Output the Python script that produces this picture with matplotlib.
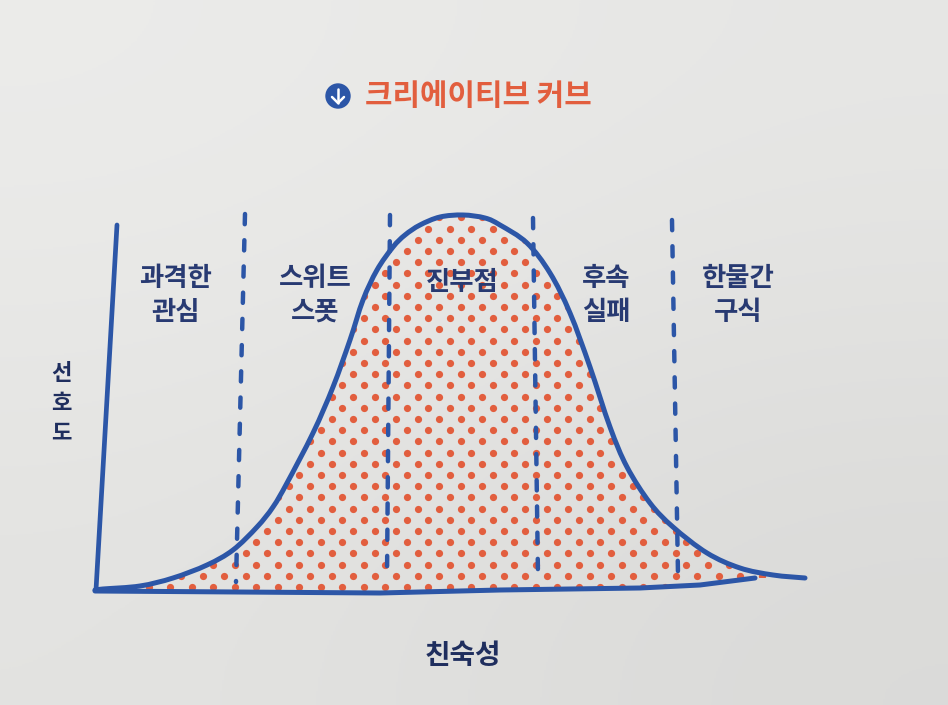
import numpy as np
import matplotlib.pyplot as plt
from matplotlib.patches import PathPatch, Circle
from matplotlib.path import Path

plt.rcParams['font.family'] = ['Noto Sans CJK KR', 'DejaVu Sans']

# curve (picture units, y grows downward)
curve_x = [95, 103, 140, 173, 207, 233, 257, 273, 287, 313, 333, 350, 363, 377,
           393, 405, 420, 440, 463, 485, 500, 527, 550, 570, 590, 610, 627, 650,
           673, 707, 740, 773, 805]
curve_y = [590, 589, 586, 578, 565, 550, 527, 507, 483, 433, 387, 340, 300, 270,
           247, 235, 225, 217, 215, 218, 225, 243, 273, 313, 367, 427, 467, 503,
           527, 553, 568, 575, 578]

# baseline and y axis (page is slightly warped in the photo)
base_x = [95, 380, 500, 640, 700, 755]
base_y = [591, 593, 590, 588, 585, 578]
yaxis_x = [96, 117]
yaxis_y = [590, 225]

# dashed stage dividers: (top x, top y, bottom x, bottom y)
dividers = [(245, 214, 236, 582), (390, 215, 387, 578),
            (533, 218, 538, 576), (672, 220, 678, 575)]

stage_labels = [["과격한", "관심"], ["스위트", "스폿"], ["진부점"],
                ["후속", "실패"], ["한물간", "구식"]]
stage_x = [176, 315, 462, 606, 738]

title = "크리에이티브 커브"
xlabel = "친숙성"
ylabel = "선호도"

blue = "#2c56a7"
navy = "#283a72"
orange = "#e25e3e"


def smooth_path(xs, ys):
    # catmull-rom through the read points, as cubic bezier segments
    p = np.column_stack([xs, ys]).astype(float)
    ext = np.vstack([p[0], p, p[-1]])
    verts = [p[0]]
    codes = [Path.MOVETO]
    for i in range(1, len(ext) - 2):
        c1 = ext[i] + (ext[i + 1] - ext[i - 1]) / 6
        c2 = ext[i + 1] - (ext[i + 2] - ext[i]) / 6
        verts += [c1, c2, ext[i + 1]]
        codes += [Path.CURVE4] * 3
    return verts, codes


fig = plt.figure(figsize=(9.48, 7.05), dpi=100)
ax = fig.add_axes([0, 0, 1, 1])
ax.set_xlim(0, 948)
ax.set_ylim(705, 0)
ax.axis('off')

# paper background
bg = np.array([[[0.925, 0.925, 0.918], [0.905, 0.905, 0.898]],
               [[0.890, 0.890, 0.882], [0.855, 0.855, 0.848]]])
ax.imshow(bg, extent=(0, 948, 705, 0), interpolation='bicubic', aspect='auto', zorder=0)

cv, cc = smooth_path(curve_x, curve_y)

# dotted fill under the curve
fill_verts = cv + [np.array(v, float) for v in zip(base_x[::-1], base_y[::-1])] + [cv[0]]
fill_codes = cc + [Path.LINETO] * len(base_x) + [Path.CLOSEPOLY]
area = PathPatch(Path(fill_verts, fill_codes), facecolor='none', edgecolor='none')
ax.add_patch(area)
dx, dy = 21.5, 11.2
pts = []
for i, yy in enumerate(np.arange(587, 205, -dy)):
    off = 0 if i % 2 == 0 else dx / 2
    for xx in np.arange(20 + off, 820, dx):
        pts.append((xx, yy))
pts = np.array(pts)
dots = ax.scatter(pts[:, 0], pts[:, 1], s=27, color=orange, linewidths=0, zorder=2)
dots.set_clip_path(area)

# dividers
for x0, y0, x1, y1 in dividers:
    ax.plot([x0, x1], [y0, y1], color=blue, lw=3.2, dashes=(2.3, 3.6),
            dash_capstyle='round', zorder=3)

# axes and curve
ax.plot(yaxis_x, yaxis_y, color=blue, lw=3.4, solid_capstyle='round', zorder=4)
ax.plot(base_x, base_y, color=blue, lw=3.6, solid_capstyle='round', zorder=4)
ax.add_patch(PathPatch(Path(cv, cc), facecolor='none', edgecolor=blue, lw=3.6,
                       capstyle='round', joinstyle='round', zorder=4))

# stage labels
for lines, x in zip(stage_labels, stage_x):
    y0 = 283 if len(lines) == 1 else 278
    for k, s in enumerate(lines):
        ax.text(x, y0 + 34 * k, s, ha='center', va='center', fontsize=19,
                color=navy, fontweight='bold', zorder=5)

# axis labels
ax.text(463, 656, xlabel, ha='center', va='center', fontsize=20,
        color="#1f2e5e", fontweight='bold')
for k, ch in enumerate(ylabel):
    ax.text(61, 373 + 30 * k, ch, ha='center', va='center', fontsize=16,
            color="#1f2e5e", fontweight='bold')

# title with icon
ax.add_patch(Circle((338, 96), 12, color=blue, zorder=5))
ax.plot([338, 338], [89, 103], color='white', lw=1.8, solid_capstyle='round', zorder=6)
ax.plot([332, 338, 344], [97, 103, 97], color='white', lw=1.8,
        solid_capstyle='round', solid_joinstyle='round', zorder=6)
ax.text(478, 96, title, ha='center', va='center', fontsize=21.5, color=orange,
        fontweight='bold')

fig.savefig("out.png", dpi=100)
